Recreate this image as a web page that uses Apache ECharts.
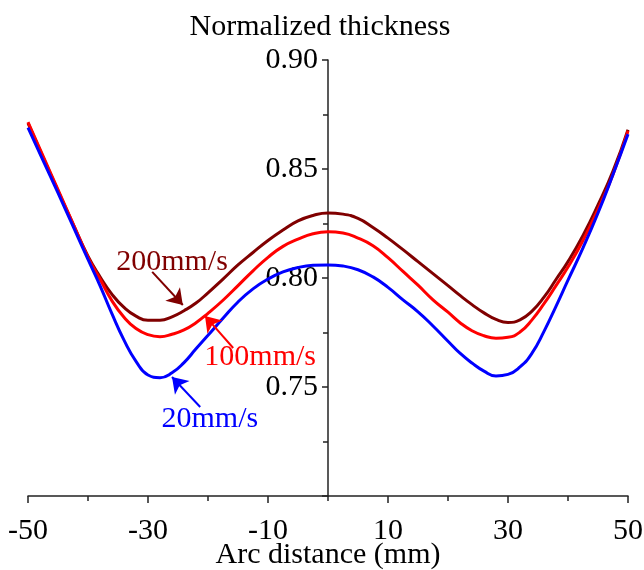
<!DOCTYPE html>
<html>
<head>
<meta charset="utf-8">
<script src="https://cdn.jsdelivr.net/npm/echarts@6/dist/echarts.min.js"></script>
<style>
html,body{margin:0;padding:0;background:#fff;}
#chart{width:644px;height:570px;}
</style>
</head>
<body>
<div id="chart"></div>
<script>
var arcDistance = [-50,-47.5,-45,-42.5,-40,-38,-36,-34,-32,-30,-28,-26,-24,-22,-20,-17.5,-15,-12.5,-10,-7.5,-5,-2.5,0,2.5,5,7.5,10,12.5,15,17.5,20,22,24,26,28,30,32,34,36,38,40,42.5,45,47.5,50];

var thick200 = [0.871,0.8555,0.840,0.8248,0.810,0.8006,0.7925,0.7865,0.7825,0.7806,0.7806,0.7822,0.785,0.7885,0.7932,0.7995,0.806,0.8117,0.8172,0.822,0.8262,0.8287,0.8298,0.8293,0.8273,0.8232,0.8183,0.813,0.8075,0.802,0.7965,0.792,0.7878,0.784,0.781,0.7796,0.7808,0.7848,0.7912,0.7993,0.8075,0.8195,0.8335,0.849,0.868];

var thick100 = [0.8715,0.856,0.8405,0.825,0.8095,0.7995,0.7895,0.782,0.7768,0.774,0.7731,0.7742,0.7762,0.7795,0.7838,0.7898,0.7965,0.8033,0.8095,0.8145,0.8178,0.8203,0.8212,0.8206,0.8183,0.8148,0.8093,0.803,0.7967,0.790,0.7843,0.7795,0.7758,0.7735,0.7724,0.7728,0.7752,0.7808,0.7882,0.7965,0.805,0.8172,0.8315,0.8475,0.8675];

var thick20 = [0.869,0.854,0.839,0.8238,0.8085,0.7965,0.7835,0.7715,0.7618,0.7555,0.7543,0.7565,0.7612,0.7675,0.7737,0.7815,0.789,0.795,0.7995,0.8028,0.8048,0.8058,0.806,0.8055,0.8038,0.8005,0.7957,0.790,0.7845,0.778,0.771,0.7655,0.761,0.7573,0.7551,0.7558,0.7592,0.7655,0.7755,0.787,0.799,0.8138,0.8298,0.8475,0.866];

var seriesNames = ['200mm/s','100mm/s','20mm/s'];
var seriesColors = ['#800000','#ff0000','#0000ff'];

// annotation anchors in data coordinates: text centre, arrow tail, arrow tip
var labelPos = [[-26,0.8073],[-11.3,0.7638],[-19.7,0.7353]];
var arrowTail = [[-29.3,0.8028],[-15.8,0.7679],[-21.3,0.7408]];
var arrowTip = [[-24.2,0.7876],[-20.5,0.7826],[-26,0.7546]];

var FONT = 'Liberation Serif';
var GRID_LEFT = 28, GRID_RIGHT = 16;
var CHART_W = 644;

function pairs(ys){ return arcDistance.map(function(x,i){ return [x, ys[i]]; }); }
var allData = [thick200, thick100, thick20];

var chart = echarts.init(document.getElementById('chart'), null, {renderer:'canvas'});

var series = allData.map(function(ys, i){
  return {
    name: seriesNames[i],
    type: 'line',
    data: pairs(ys),
    smooth: 0.5,
    showSymbol: false,
    symbol: 'none',
    lineStyle: {color: seriesColors[i], width: 3},
    itemStyle: {color: seriesColors[i]},
    z: 2 + i,
    animation: false,
    markLine: {
      silent: true,
      symbol: ['none','arrow'],
      symbolSize: 15,
      label: {show: false},
      lineStyle: {color: seriesColors[i], width: 2, type: 'solid'},
      data: [[{coord: arrowTail[i]}, {coord: arrowTip[i]}]]
    },
    markPoint: {
      silent: true,
      symbol: 'circle',
      symbolSize: 0,
      label: {show: true, position: 'inside', formatter: seriesNames[i], color: seriesColors[i], fontFamily: FONT, fontSize: 30},
      data: [{coord: labelPos[i]}]
    }
  };
});

// y axis sits at x = 0 of the x range [-50, 50]
var plotW = CHART_W - GRID_LEFT - GRID_RIGHT;
var yAxisShift = -plotW * (0 - (-50)) / 100;

chart.setOption({
  backgroundColor: '#fff',
  animation: false,
  grid: {left: GRID_LEFT, right: GRID_RIGHT, top: 60, bottom: 74, containLabel: false, outerBoundsMode: 'none'},
  xAxis: {
    type: 'value',
    min: -50, max: 50, interval: 20,
    name: 'Arc distance (mm)',
    nameLocation: 'middle',
    nameGap: 44,
    nameMoveOverlap: false,
    nameTextStyle: {fontFamily: FONT, fontSize: 30, color: '#000'},
    axisLine: {onZero: false, lineStyle: {color: '#222', width: 1.5}},
    axisTick: {show: true, inside: false, length: 7, lineStyle: {color: '#222', width: 1.5}},
    minorTick: {show: true, splitNumber: 2, length: 5, lineStyle: {color: '#222', width: 1.5}},
    splitLine: {show: false},
    axisLabel: {fontFamily: FONT, fontSize: 30, color: '#000', margin: 20}
  },
  yAxis: {
    type: 'value',
    min: 0.70, max: 0.90, interval: 0.05,
    offset: yAxisShift,
    name: 'Normalized thickness',
    nameLocation: 'end',
    nameGap: 18,
    nameTextStyle: {fontFamily: FONT, fontSize: 30, color: '#000', align: 'center', padding: [0, 16, 0, 0]},
    axisLine: {onZero: false, lineStyle: {color: '#222', width: 1.5}},
    axisTick: {show: true, inside: false, length: 6, lineStyle: {color: '#222', width: 1.5}},
    minorTick: {show: true, splitNumber: 2, length: 5, lineStyle: {color: '#222', width: 1.5}},
    splitLine: {show: false},
    axisLabel: {
      fontFamily: FONT, fontSize: 30, color: '#000', margin: 10,
      formatter: function(v){ return v < 0.72 ? '' : v.toFixed(2); }
    }
  },
  series: series
});
</script>
</body>
</html>
